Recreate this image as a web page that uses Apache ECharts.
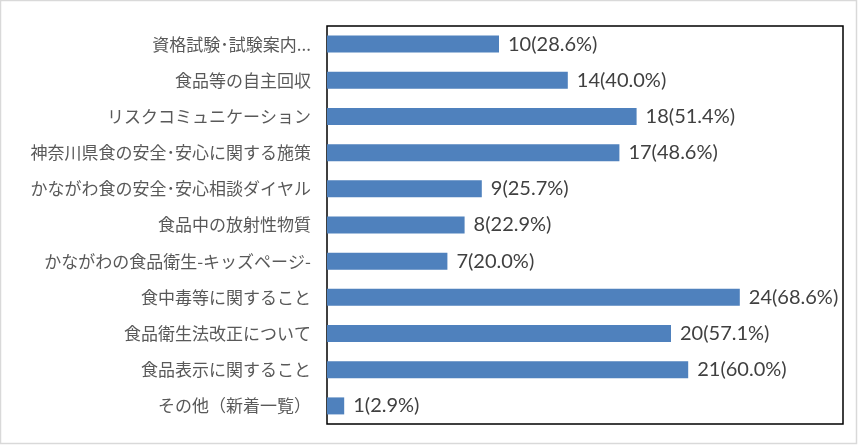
<!DOCTYPE html>
<html><head><meta charset="utf-8">
<script src="https://cdn.jsdelivr.net/npm/echarts@6/dist/echarts.min.js"></script>
<style>html,body{margin:0;padding:0;background:#fff}#c{width:858px;height:445px}</style>
</head><body><div id="c"></div>
<script>
const categories = ["資格試験･試験案内...","食品等の自主回収","リスクコミュニケーション","神奈川県食の安全･安心に関する施策","かながわ食の安全･安心相談ダイヤル","食品中の放射性物質","かながわの食品衛生-キッズページ-","食中毒等に関すること","食品衛生法改正について","食品表示に関すること","その他（新着一覧）"];
const counts = [10,14,18,17,9,8,7,24,20,21,1];
const percents = ["28.6","40.0","51.4","48.6","25.7","22.9","20.0","68.6","57.1","60.0","2.9"];

const chart = echarts.init(document.getElementById('c'), null, {renderer:'canvas'});
chart.setOption({
  animation:false,
  graphic:[{type:'rect',shape:{x:0.5,y:0.5,width:856,height:443},style:{fill:'none',stroke:'#d9d9d9',lineWidth:1.5}}],
  grid:{left:327,right:15,top:26,bottom:21,show:true,borderColor:'#000',borderWidth:1.5,backgroundColor:'#fff'},
  xAxis:{type:'value',min:0,max:30,show:false},
  yAxis:{type:'category',data:categories,inverse:true,
    axisLine:{show:false},axisTick:{show:false},
    axisLabel:{color:'#595959',fontSize:17,margin:16,fontFamily:'"Noto Sans CJK JP", sans-serif'}},
  series:[{type:'bar',data:counts,barWidth:17,
    itemStyle:{color:'#4F81BD'},
    label:{show:true,position:'right',distance:9,color:'#404040',fontSize:20,fontFamily:'Lato, sans-serif',
      formatter:p=>counts[p.dataIndex]+'('+percents[p.dataIndex]+'%)'}}]
});
</script></body></html>
